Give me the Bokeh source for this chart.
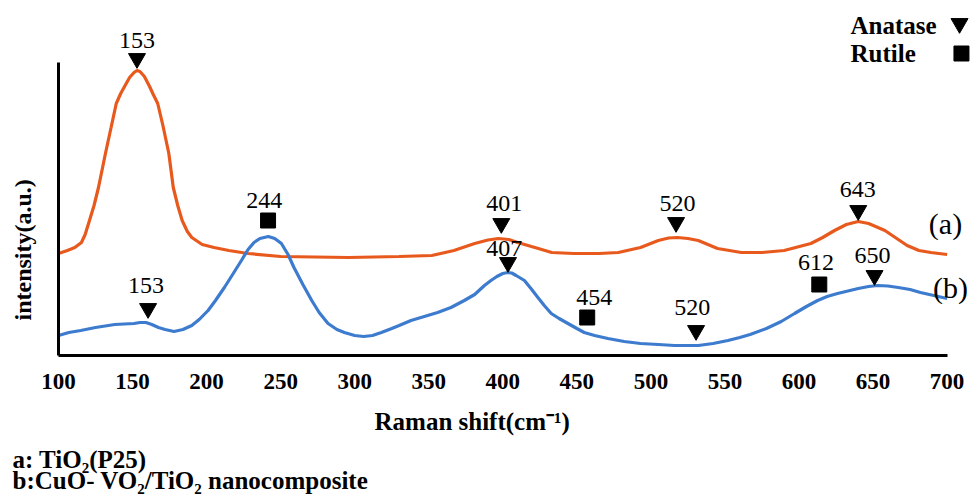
import numpy as np
from bokeh.plotting import figure
from bokeh.models import Range1d, LinearAxis, FixedTicker, Title
from bokeh.core.properties import value
from bokeh.embed import file_html
from bokeh.resources import INLINE

# ---------------- data ----------------
# (a) TiO2 (P25)
raman_a = [100, 106, 111, 115.5, 118, 120.5, 124, 127, 131.7, 135.5, 139, 142, 144.6, 148,
           151, 153, 155, 158, 161.5, 164, 167, 170.5, 174.5, 177.5, 180.5, 183.5, 187,
           190, 197, 205, 215, 228, 250, 296, 330, 352, 367, 381, 390, 397, 404, 410,
           424, 433, 448, 465, 478, 493, 505, 512, 518, 525, 532, 545, 561, 575, 590,
           608, 616, 624, 632, 640, 647, 658, 666, 673, 681, 689, 700]
intensity_a = [102, 105, 108, 113, 121, 133, 150, 168, 202, 228, 252, 262, 269, 278,
               283, 285, 284, 279, 269, 261, 252, 230, 202, 168, 150, 135, 124,
               118, 111, 108, 105, 102, 99, 98, 99, 100, 105, 112, 115.5, 117, 116, 113,
               107, 103, 102, 102, 103, 108, 115, 117.5, 118, 117, 115, 107, 103, 103, 105,
               112, 118, 125, 131, 134, 132, 125, 117, 110, 105, 103, 101]

# (b) CuO-VO2/TiO2 nanocomposite
raman_b = [100, 107, 115, 125, 138, 151, 155, 159, 163, 167.5, 172, 178, 184, 190, 195,
           201, 206, 212, 218, 223.5, 228, 232, 236, 241.7, 246, 250.5, 255, 259, 265,
           271, 276, 282, 288, 293, 300, 306, 312, 318, 325, 330, 338, 347, 356, 365,
           374, 381, 387.6, 392, 396, 400, 403.4, 406, 409, 414.6, 419, 423.7, 428,
           432.7, 438, 444, 450, 455, 462, 471, 482, 493, 505, 516, 532, 542, 552, 560,
           567, 578, 588, 597, 605, 612.6, 619, 626, 633, 640, 647, 653, 660, 667, 675,
           682, 691, 700]
intensity_b = [20, 23, 25, 28, 31, 32, 33, 33, 31, 28, 26, 24, 26, 30, 36,
               45, 55, 68, 82, 95, 106, 113, 117, 119, 117, 112, 101, 88, 71,
               55, 43, 32, 26, 23, 20, 19, 20, 23, 27, 30, 35, 39, 43, 48,
               55, 61, 70, 75, 79, 82, 83, 82.5, 80, 75, 67, 58, 50,
               42, 37, 32, 27, 23, 20, 17, 14, 12, 11, 10, 10, 12, 15, 18,
               21, 27, 34, 42, 49, 55, 59, 62, 64.5, 67, 69, 70, 69.5, 68, 66,
               63, 60, 57]

# peak markers
anatase_x = [153, 399, 517, 640, 160.5, 403.5, 530.5, 651]
anatase_y = [297, 132, 133, 145, 47, 93, 25, 80]
rutile_x = [241.5, 457, 613.7]
rutile_y = [135, 38, 71]

# peak labels
peak_labels = ["153", "244", "401", "520", "643", "153", "407", "454", "520", "612", "650"]
label_x = [153, 239, 401, 518, 639.6, 159, 401, 461.7, 528, 611.5, 649.7]
label_y = [315, 155, 152, 152, 166, 70, 107, 58, 48, 93, 100]

x_ticks = [100, 150, 200, 250, 300, 350, 400, 450, 500, 550, 600, 650, 700]

legend_names = ["Anatase", "Rutile"]
legend_markers = ["inverted_triangle", "square"]
curve_names = ["(a)", "(b)"]

x_title = "Raman shift(cm\u207b\u00b9)"
y_title = "intensity(a.u.)"
note_a = "a: TiO\u2082(P25)"
note_b = "b:CuO- VO\u2082/TiO\u2082 nanocomposite"

# ---------------- styling ----------------
SERIF = "Liberation Serif"
ORANGE = "#E8591D"
BLUE = "#3D7BCE"

p = figure(width=970, height=496, output_backend="svg", toolbar_location=None,
           x_range=Range1d(100, 715.8), y_range=Range1d(0, 355),
           min_border_left=58, min_border_right=0, min_border_top=0,
           min_border_bottom=141, x_axis_location=None, y_axis_location=None)
p.outline_line_color = None
p.background_fill_color = "white"
p.border_fill_color = "white"
p.xgrid.visible = False
p.ygrid.visible = False


def text_title(text, size, align, offset, standoff, valign="top"):
    return Title(text=text, align=align, offset=offset, standoff=standoff,
                 vertical_align=valign, text_font=SERIF, text_font_style="bold",
                 text_font_size=size, text_color="black")


xaxis = LinearAxis(bounds=(100, 700), ticker=FixedTicker(ticks=x_ticks))
xaxis.axis_line_width = 3
xaxis.axis_line_color = "black"
xaxis.major_tick_out = 0
xaxis.major_tick_in = 0
xaxis.minor_tick_out = 0
xaxis.minor_tick_in = 0
xaxis.major_label_standoff = 18
xaxis.major_label_text_font = SERIF
xaxis.major_label_text_font_style = "bold"
xaxis.major_label_text_font_size = "23px"
xaxis.major_label_text_color = "black"
p.add_layout(xaxis, "below")
p.add_layout(text_title(x_title, "25px", "left", 316, 32), "below")
p.add_layout(text_title(note_a, "25px", "left", -46, -14), "below")
p.add_layout(text_title(note_b, "25px", "left", -46, -2), "below")

yaxis = LinearAxis(bounds=(0, 293), ticker=FixedTicker(ticks=[0]))
yaxis.axis_line_width = 3
yaxis.axis_line_color = "black"
yaxis.major_tick_line_color = None
yaxis.major_tick_out = 21
yaxis.major_tick_in = 0
yaxis.minor_tick_out = 0
yaxis.minor_tick_in = 0
yaxis.major_label_standoff = 0
yaxis.major_label_text_color = None
yaxis.major_label_text_font_size = "11px"
p.add_layout(yaxis, "left")
p.add_layout(text_title(y_title, "24px", "left", 35, 0), "left")

# curves
p.line(raman_a, intensity_a, line_color=ORANGE, line_width=3.2)
p.line(raman_b, intensity_b, line_color=BLUE, line_width=3.2)

# markers
p.scatter(anatase_x, anatase_y, marker="inverted_triangle", size=17, color="black")
p.scatter(rutile_x, rutile_y, marker="square", size=15, color="black")

# peak labels
p.text(label_x, label_y, text=peak_labels, text_font=value(SERIF),
       text_font_size=value("24px"), text_align="center", text_baseline="middle",
       text_color="black")

# curve names
p.text([698.9, 702.3], [132, 68], text=curve_names, text_font=value(SERIF),
       text_font_size=value("30px"), text_align="center", text_baseline="middle",
       text_color="black")

# legend
p.text([634.8, 634.8], [330, 302], text=legend_names, text_font=value(SERIF),
       text_font_style="bold", text_font_size=value("25px"), text_align="left",
       text_baseline="middle", text_color="black")
p.scatter([708.4], [332], marker=legend_markers[0], size=17, color="black")
p.scatter([709.7], [302], marker=legend_markers[1], size=15, color="black")

open("out.html", "w").write(file_html(p, INLINE))
